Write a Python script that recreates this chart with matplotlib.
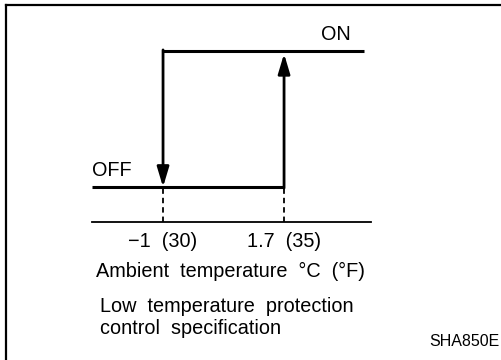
import matplotlib
matplotlib.use("Agg")
import matplotlib.pyplot as plt
from matplotlib.lines import Line2D

plt.rcParams["font.family"] = ["Liberation Sans", "DejaVu Sans"]

# Hysteresis of the low temperature protection switch
state_levels = [0, 1]                 # OFF, ON
state_names = ["OFF", "ON"]
off_threshold_c = -1.0                # compressor switches OFF below this
on_threshold_c = 1.7                  # compressor switches ON above this
tick_celsius = [-1.0, 1.7]
tick_fahrenheit = [30, 35]
tick_labels = ["\u22121  (30)", "1.7  (35)"]
temp_range = [-2.585, 3.49]           # extent of the drawn characteristic
axis_range = [-2.585, 3.64]
axis_level = -0.257

W, H = 501, 360
fig = plt.figure(figsize=(W / 100, H / 100), dpi=100,
                 facecolor="white", edgecolor="white", linewidth=0)

# frame: only the left and top edges fall inside the figure
x0, y0 = 6 / W, 1 - 5 / H
fig.add_artist(Line2D([x0, x0], [-0.05, y0], transform=fig.transFigure,
                      color="black", lw=1.6, solid_capstyle="projecting"))
fig.add_artist(Line2D([x0, 1.05], [y0, y0], transform=fig.transFigure,
                      color="black", lw=1.6, solid_capstyle="projecting"))

ax = fig.add_axes([92 / W, 1 - 222 / H, (371 - 92) / W, (222 - 51) / H])
ax.set_xlim(axis_range)
ax.set_ylim(axis_level, 1.0)
ax.patch.set_alpha(0)
for side in ["top", "right", "left"]:
    ax.spines[side].set_visible(False)
ax.spines["bottom"].set_linewidth(1.3)
ax.set_yticks([])

off_level, on_level = state_levels
lw = 2.2
# OFF branch and ON branch
ax.plot([temp_range[0], on_threshold_c], [off_level, off_level],
        color="black", lw=lw, solid_capstyle="butt", clip_on=False)
ax.plot([off_threshold_c, temp_range[1]], [on_level, on_level],
        color="black", lw=lw, solid_capstyle="butt", clip_on=False)

# transitions
arrow = dict(arrowstyle="-|>,head_length=0.8,head_width=0.24",
             mutation_scale=15, color="black", lw=2.0,
             shrinkA=0, shrinkB=0)
ax.annotate("", xy=(off_threshold_c, off_level),
            xytext=(off_threshold_c, on_level + 0.008),
            arrowprops=arrow, annotation_clip=False)
up = dict(arrow, shrinkB=2)
ax.annotate("", xy=(on_threshold_c, on_level),
            xytext=(on_threshold_c, off_level - 0.008),
            arrowprops=up, annotation_clip=False)

# drop lines to the temperature axis
for t in tick_celsius:
    ax.plot([t, t], [axis_level, off_level], color="black", lw=1.3,
            linestyle=(0, (3, 2.2)), clip_on=False)

fs = 14.3
ax.set_xticks(tick_celsius, tick_labels)
ax.tick_params(axis="x", length=0, pad=7.5, labelsize=fs)

ax.text(temp_range[1] - 0.3, on_level + 0.05, state_names[1], fontsize=fs,
        ha="right", va="bottom")
ax.text(temp_range[0], off_level + 0.05, state_names[0], fontsize=fs,
        ha="left", va="bottom")

fig.text(230 / W, 1 - 271 / H, "Ambient  temperature  \u00b0C  (\u00b0F)",
         fontsize=fs, ha="center", va="center")
fig.text(100 / W, 1 - 306 / H, "Low  temperature  protection",
         fontsize=fs, ha="left", va="center")
fig.text(100 / W, 1 - 329 / H, "control  specification",
         fontsize=fs, ha="left", va="center")
fig.text(500 / W, 1 - 341 / H, "SHA850E", fontsize=11.5,
         ha="right", va="center")

fig.savefig("out.png", dpi=100)
